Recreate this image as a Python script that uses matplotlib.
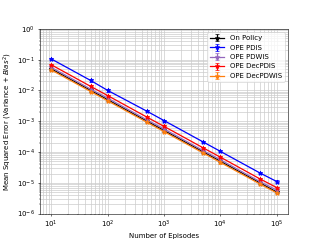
import matplotlib
matplotlib.use("Agg")
import matplotlib.pyplot as plt
import numpy as np

# Datos
episodios = np.array([10, 50, 100, 500, 1000, 5000, 10000, 50000, 100000])
on_policy = np.array([5.0e-2, 1.0e-2, 5.0e-3, 1.0e-3, 5.0e-4, 1.0e-4, 5.0e-5, 1.0e-5, 5.0e-6])
pdis = np.array([1.05e-1, 2.1e-2, 1.0e-2, 2.1e-3, 1.05e-3, 2.1e-4, 1.05e-4, 2.1e-5, 1.1e-5])
pdwis = np.array([5.6e-2, 1.1e-2, 5.6e-3, 1.1e-3, 5.6e-4, 1.1e-4, 5.6e-5, 1.1e-5, 5.8e-6])
decpdis = np.array([6.8e-2, 1.35e-2, 6.8e-3, 1.35e-3, 6.8e-4, 1.35e-4, 6.8e-5, 1.35e-5, 7.0e-6])
decpdwis = np.array([4.6e-2, 9.2e-3, 4.6e-3, 9.2e-4, 4.6e-4, 9.2e-5, 4.6e-5, 9.2e-6, 4.7e-6])

series = [
    (on_policy, "black", "On Policy"),
    (pdis, "blue", "OPE PDIS"),
    (pdwis, "tab:purple", "OPE PDWIS"),
    (decpdis, "red", "OPE DecPDIS"),
    (decpdwis, "tab:orange", "OPE DecPDWIS"),
]

plt.rcParams['font.size'] = 10
fig, ax = plt.subplots(figsize=(6.4, 4.8), dpi=50)

for valores, color, nombre in series:
    ax.errorbar(episodios, valores, yerr=valores * 0.08, color=color, marker='*',
                markersize=7, linewidth=1.8, capsize=3, label=nombre)

ax.set_xscale('log')
ax.set_yscale('log')
ax.set_ylim(1e-6, 1)
ax.grid(True, which='both', color='#cccccc', linewidth=1)
ax.set_xlabel("Number of Episodes")
ax.set_ylabel("Mean Squared Error (Variance + $Bias^2$)")
ax.legend(loc='upper right')

plt.savefig('out.png', dpi=50)
